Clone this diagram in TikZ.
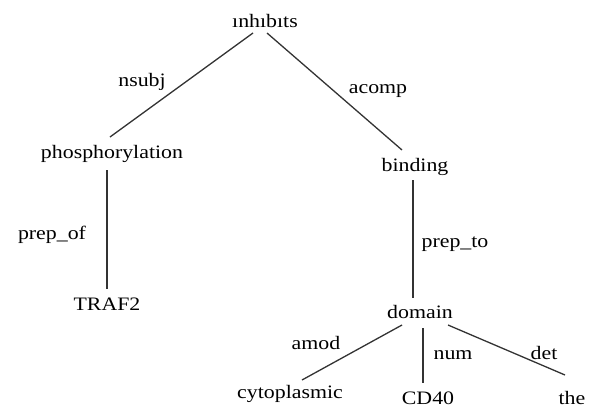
\documentclass[tikz,border=0pt]{standalone}
\usepackage{fontspec}
\setmainfont{Liberation Serif}[FakeStretch=1.15]
\usepackage{tikz}

\tikzset{
  word/.style={inner sep=0pt, anchor=base, font=\fontsize{19}{22}\selectfont},
  dep/.style={draw=black!80, line width=1.3pt}
}

\begin{document}
\begin{tikzpicture}[x=1pt,y=1pt,yscale=-1,xscale=1]
\useasboundingbox (0,0) rectangle (594,408);
% Text Node
\node[word] (inhibits) at (265,27) {ınhıbıts};
% Text Node
\node[word] (phos) at (112,158) {phosphorylation};
% Text Node
\node[word] (binding) at (415,171) {binding};
% Text Node
\node[word] (traf) at (107,310) {TRAF2};
% Text Node
\node[word] (domain) at (420,318) {domain};
% Text Node
\node[word] (cyto) at (290,398) {cytoplasmic};
% Text Node
\node[word] (cd) at (428,404) {CD40};
% Text Node
\node[word] (the) at (572,404) {the};
% Text Node
\node[word] (nsubj) at (142,86) {nsubj};
\node[word] (acomp) at (378,93) {acomp};
\node[word] (prepof) at (52,239) {prep\_of};
\node[word] (prepto) at (455,247) {prep\_to};
\node[word] (amod) at (316,349) {amod};
\node[word] (num) at (453,359) {num};
\node[word] (det) at (544,359) {det};
%Straight Lines
\draw[dep] ([xshift=-12pt,yshift=6pt]inhibits.base) -- ([xshift=-2pt,yshift=-21pt]phos.base);
\draw[dep] ([xshift=2pt,yshift=6pt]inhibits.base) -- ([xshift=-13pt,yshift=-21pt]binding.base);
%Straight Lines
\draw[dep] ([xshift=-5pt,yshift=12pt]phos.base) -- ([yshift=-21pt]traf.base) ;
\draw[dep] ([xshift=-2pt,yshift=9pt]binding.base) -- ([xshift=-7pt,yshift=-20pt]domain.base) ;
%Straight Lines
\draw[dep] ([xshift=-18pt,yshift=7pt]domain.base) -- ([xshift=12pt,yshift=-18pt]cyto.base);
\draw[dep] ([xshift=3pt,yshift=10pt]domain.base) -- ([xshift=-5pt,yshift=-21pt]cd.base);
\draw[dep] ([xshift=28pt,yshift=7pt]domain.base) -- ([xshift=-7pt,yshift=-29pt]the.base);
\end{tikzpicture}
\end{document}
